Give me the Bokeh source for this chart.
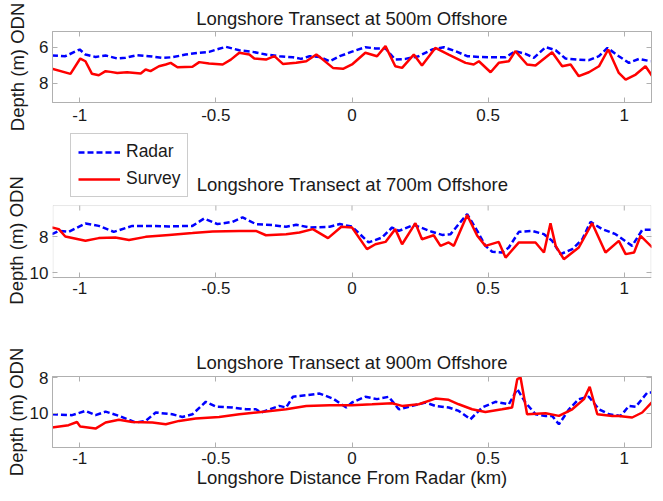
from bokeh.plotting import figure
from bokeh.layouts import column
from bokeh.models import (Range1d, FixedTicker, LinearAxis, Legend, LegendItem, Title,
                          Label, BoxAnnotation)
from bokeh.embed import file_html
from bokeh.resources import INLINE

# ---------------- data ----------------
x_ticks = [-1, -0.5, 0, 0.5, 1]
x_tick_labels = ["-1", "-0.5", "0", "0.5", "1"]

titles = ["Longshore Transect at 500m Offshore",
          "Longshore Transect at 700m Offshore",
          "Longshore Transect at 900m Offshore"]
y_label = "Depth (m) ODN"
x_label = "Longshore Distance From Radar (km)"
series_names = ["Radar", "Survey"]

# 500 m offshore
radar_500_x = [-1.102, -1.053, -1.0, -0.979, -0.942, -0.905, -0.862, -0.832, -0.789, -0.746,
               -0.697, -0.660, -0.611, -0.561, -0.525, -0.488, -0.463, -0.414, -0.365, -0.316,
               -0.267, -0.217, -0.187, -0.156, -0.119, -0.082, -0.045, 0.0,
               0.049, 0.086, 0.123, 0.159, 0.196, 0.245, 0.294, 0.337, 0.380, 0.423,
               0.466, 0.515, 0.564, 0.600, 0.637, 0.668, 0.711, 0.748, 0.784, 0.833,
               0.870, 0.907, 0.938, 0.980, 1.017, 1.054, 1.097]
radar_500_y = [6.46, 6.50, 6.13, 6.41, 6.54, 6.46, 6.63, 6.59, 6.44, 6.50,
               6.59, 6.56, 6.41, 6.31, 6.26, 6.09, 5.98, 6.17, 6.26, 6.41,
               6.50, 6.56, 6.65, 6.50, 6.54, 6.78, 6.50, 6.25,
               6.00, 6.07, 6.07, 6.69, 6.65, 6.50, 6.13, 6.00, 6.22, 6.50,
               6.54, 6.56, 6.56, 6.22, 6.37, 6.59, 6.00, 6.17, 6.63, 6.69,
               6.72, 6.50, 6.04, 6.50, 6.87, 6.65, 6.78]
survey_500_x = [-1.102, -1.034, -0.998, -0.979, -0.955, -0.930, -0.905, -0.887, -0.862, -0.826,
                -0.776, -0.758, -0.740, -0.709, -0.684, -0.666, -0.641, -0.586, -0.561, -0.525,
                -0.475, -0.445, -0.414, -0.377, -0.359, -0.316, -0.285, -0.254, -0.205, -0.168,
                -0.131, -0.107, -0.070, -0.033, 0.0,
                0.049, 0.092, 0.123, 0.159, 0.184, 0.227, 0.257, 0.306, 0.355, 0.417,
                0.447, 0.466, 0.509, 0.539, 0.576, 0.600, 0.643, 0.674, 0.735, 0.772,
                0.803, 0.833, 0.870, 0.907, 0.941, 0.980, 1.005, 1.042, 1.078, 1.103]
survey_500_y = [7.19, 7.48, 6.63, 6.78, 7.48, 7.56, 7.33, 7.37, 7.43, 7.39,
                7.46, 7.24, 7.33, 7.06, 6.96, 6.87, 7.11, 7.09, 6.83, 6.91,
                6.96, 6.69, 6.31, 6.41, 6.63, 6.69, 6.50, 6.93, 6.87, 6.78,
                6.41, 6.69, 7.15, 7.20, 6.96,
                6.31, 6.50, 5.94, 7.06, 7.15, 6.41, 7.02, 6.04, 6.41, 6.87,
                6.96, 6.78, 7.39, 6.87, 6.78, 6.22, 6.96, 7.02, 6.28, 7.06,
                6.96, 7.61, 7.39, 7.06, 6.13, 7.43, 7.80, 7.52, 7.06, 7.61]

# 700 m offshore
radar_700_x = [-1.102, -1.077, -1.041, -0.979, -0.930, -0.875, -0.807, -0.733, -0.672, -0.586,
               -0.543, -0.494, -0.439, -0.402, -0.353, -0.291, -0.242, -0.205, -0.156, -0.082,
               -0.045, 0.0,
               0.061, 0.110, 0.147, 0.172, 0.227, 0.294, 0.331, 0.362, 0.392, 0.423,
               0.460, 0.490, 0.515, 0.551, 0.576, 0.613, 0.662, 0.705, 0.735, 0.766,
               0.809, 0.846, 0.876, 0.919, 0.968, 1.029, 1.066, 1.097]
radar_700_y = [7.87, 7.69, 7.74, 7.28, 7.41, 7.74, 7.41, 7.41, 7.44, 7.41,
               7.00, 7.31, 7.19, 6.94, 7.31, 7.37, 7.46, 7.35, 7.50, 7.46,
               7.31, 7.45,
               8.33, 8.06, 7.50, 7.69, 7.35, 7.74, 7.91, 7.87, 7.31, 6.76,
               7.69, 8.52, 8.85, 8.89, 8.61, 7.74, 7.69, 7.87, 8.24, 8.98,
               8.70, 8.15, 7.19, 7.59, 7.87, 8.52, 7.63, 7.63]
survey_700_x = [-1.102, -1.077, -1.053, -0.979, -0.930, -0.869, -0.819, -0.758, -0.672, -0.586,
                -0.512, -0.414, -0.353, -0.316, -0.242, -0.193, -0.144, -0.088, -0.039, 0.0,
                0.055, 0.086, 0.123, 0.159, 0.184, 0.233, 0.257, 0.300, 0.325, 0.355,
                0.374, 0.423, 0.460, 0.490, 0.539, 0.564, 0.613, 0.674, 0.705, 0.729,
                0.748, 0.778, 0.833, 0.882, 0.931, 0.980, 1.005, 1.036, 1.060, 1.103]
survey_700_y = [7.50, 7.59, 8.00, 8.24, 8.09, 8.06, 8.20, 8.02, 7.91, 7.81,
                7.72, 7.69, 7.69, 7.93, 7.87, 7.78, 7.59, 8.09, 7.46, 7.50,
                8.70, 8.43, 8.30, 7.59, 8.43, 7.26, 8.15, 7.93, 8.52, 8.33,
                8.52, 6.81, 7.96, 8.52, 8.30, 9.17, 8.33, 8.33, 8.89, 7.26,
                8.52, 9.26, 8.61, 7.26, 8.89, 8.24, 8.98, 8.89, 7.96, 8.61]

# 900 m offshore
radar_900_x = [-1.102, -1.028, -0.979, -0.942, -0.905, -0.856, -0.795, -0.758, -0.721, -0.660,
               -0.623, -0.586, -0.537, -0.500, -0.439, -0.389, -0.353, -0.334, -0.267, -0.242,
               -0.217, -0.168, -0.119, -0.070, -0.021, 0.0,
               0.049, 0.092, 0.135, 0.172, 0.221, 0.270, 0.306, 0.355, 0.392, 0.435,
               0.478, 0.527, 0.576, 0.607, 0.637, 0.674, 0.711, 0.735, 0.760, 0.797,
               0.833, 0.870, 0.907, 0.944, 0.987, 1.017, 1.042, 1.085, 1.103]
radar_900_y = [10.06, 10.11, 9.87, 10.11, 9.91, 10.15, 10.52, 10.43, 9.96, 10.06,
               10.21, 10.06, 9.36, 9.63, 9.68, 9.78, 9.78, 9.96, 9.59, 9.68,
               9.08, 8.99, 8.90, 9.18, 9.68, 9.40,
               9.08, 9.21, 9.08, 9.78, 9.59, 9.40, 9.59, 9.68, 9.87, 10.34,
               9.68, 9.36, 9.50, 8.65, 9.40, 10.06, 10.15, 10.15, 10.62, 9.78,
               9.21, 9.08, 9.78, 10.06, 10.15, 9.59, 9.64, 8.84, 8.84]
survey_900_x = [-1.102, -1.041, -1.010, -0.998, -0.942, -0.905, -0.856, -0.807, -0.733, -0.684,
                -0.635, -0.574, -0.488, -0.414, -0.316, -0.242, -0.168, -0.082, 0.0,
                0.074, 0.147, 0.184, 0.245, 0.306, 0.355, 0.392, 0.441, 0.490, 0.551,
                0.588, 0.607, 0.619, 0.643, 0.711, 0.760, 0.809, 0.852, 0.873, 0.901,
                0.956, 0.980, 1.029, 1.066, 1.103]
survey_900_y = [10.80, 10.67, 10.49, 10.75, 10.86, 10.52, 10.37, 10.49, 10.52, 10.62,
                10.43, 10.30, 10.21, 10.06, 9.91, 9.78, 9.59, 9.55, 9.55,
                9.50, 9.44, 9.59, 9.50, 9.18, 9.25, 9.50, 9.78, 9.93, 9.78,
                9.68, 8.09, 8.00, 10.06, 10.00, 10.15, 9.78, 9.21, 8.52, 10.06,
                10.15, 10.15, 10.24, 9.96, 9.36]

# ---------------- style ----------------
FONT = "Liberation Sans"
TICK_FS = "17px"
LABEL_FS = "18.5px"
LEGEND_FS = "17.5px"
TXT = "#1a1a1a"
FRAME = "#b0b0b0"
BLUE = "#0000ff"
RED = "#ff0000"
FIG_W = 655
FRAME_W = 599


def style_axis(ax, hide_labels=False, show_line=True):
    ax.axis_line_color = FRAME if show_line else None
    ax.major_tick_line_color = FRAME
    ax.minor_tick_line_color = None
    ax.major_tick_in = 5
    ax.major_tick_out = 0
    ax.major_label_text_font = FONT
    ax.major_label_text_font_size = TICK_FS
    ax.major_label_text_color = TXT
    ax.axis_label_text_font = FONT
    ax.axis_label_text_font_size = LABEL_FS
    ax.axis_label_text_font_style = "normal"
    ax.axis_label_text_color = TXT
    if hide_labels:
        ax.major_label_text_font_size = "1px"
        ax.major_label_text_color = None
        ax.major_label_standoff = 0


def make_title(text, standoff):
    return Title(text=text, align="center", text_font=FONT, text_font_size=LABEL_FS,
                 text_font_style="normal", text_color=TXT, standoff=standoff)


def panel(y_bottom, y_top, y_ticks, top, fh, bottom, rx, ry, sx, sy,
          xtick_standoff, ylabel_standoff, xlabel=None, boxed=True, ylabel=y_label):
    p = figure(width=FIG_W, height=top + fh + bottom, title=None,
               x_range=Range1d(-1.1, 1.1), y_range=Range1d(y_bottom, y_top),
               output_backend="svg", toolbar_location=None,
               min_border_left=52, min_border_right=4,
               min_border_top=top, min_border_bottom=bottom)
    p.xgrid.visible = False
    p.ygrid.visible = False
    p.outline_line_color = FRAME if boxed else None

    p.xaxis.ticker = FixedTicker(ticks=x_ticks)
    p.xaxis.major_label_overrides = dict(zip(x_ticks, x_tick_labels))
    p.yaxis.ticker = FixedTicker(ticks=y_ticks)
    p.yaxis.major_label_overrides = {t: str(t) for t in y_ticks}
    style_axis(p.xaxis[0])
    style_axis(p.yaxis[0], show_line=boxed)
    p.xaxis.major_label_standoff = xtick_standoff
    p.yaxis.major_label_standoff = 4
    p.yaxis.axis_label = ylabel
    p.yaxis.axis_label_standoff = ylabel_standoff
    if xlabel:
        p.xaxis.axis_label = xlabel
        p.xaxis.axis_label_standoff = 0

    if boxed:
        top_ax = LinearAxis(ticker=FixedTicker(ticks=x_ticks))
        style_axis(top_ax, hide_labels=True)
        p.add_layout(top_ax, "above")
    right_ax = LinearAxis(ticker=FixedTicker(ticks=y_ticks))
    style_axis(right_ax, hide_labels=True, show_line=boxed)
    p.add_layout(right_ax, "right")

    rb = p.line(rx, ry, line_color=BLUE, line_width=2.5, line_dash="6 3")
    rr = p.line(sx, sy, line_color=RED, line_width=2.5)
    return p, rb, rr


# panel 1: page y 8 -> 140, frame 39 -> 110
p1, _, _ = panel(9.07, 5.13, [6, 8], 31, 71, 30,
                 radar_500_x, radar_500_y, survey_500_x, survey_500_y,
                 xtick_standoff=6, ylabel_standoff=8)
p1.add_layout(make_title(titles[0], 6), "above")

# panel 2: page y 140 -> 350.  Plotting frame spans 140 -> 320 so that legend and
# title above the data box stay inside it; the data box itself is 213 -> 285.
P2_PX_PER_UNIT = 18.0
P2_BOX_TOP, P2_BOX_BOTTOM = 6.28, 10.28
P2_FRAME_H = 180
P2_REF_Y, P2_REF_PX_FROM_TOP = 10.0, 140      # depth 10 sits 140 px below frame top
p2_top = P2_REF_Y - P2_REF_PX_FROM_TOP / P2_PX_PER_UNIT
p2_bottom = p2_top + P2_FRAME_H / P2_PX_PER_UNIT
pad = "\u00a0" * 7    # moves the centred axis label down onto the data box
p2, b2, r2 = panel(p2_bottom, p2_top, [8, 10], 0, P2_FRAME_H, 30,
                   radar_700_x, radar_700_y, survey_700_x, survey_700_y,
                   xtick_standoff=4, ylabel_standoff=0, boxed=False,
                   ylabel=y_label + pad)
p2.xaxis.fixed_location = P2_BOX_BOTTOM
half_px = 0.5 * 2.2 / FRAME_W
p2.add_layout(BoxAnnotation(left=-1.1 + half_px, right=1.1 - half_px,
                            top=P2_BOX_TOP, bottom=P2_BOX_BOTTOM,
                            fill_color=None, line_color=FRAME, line_width=1))
tick_len = 5 / P2_PX_PER_UNIT
p2.segment(x0=x_ticks, x1=x_ticks, y0=[P2_BOX_TOP] * len(x_ticks),
           y1=[P2_BOX_TOP + tick_len] * len(x_ticks), line_color=FRAME, line_width=1)
p2.add_layout(Label(x=300, y=128, x_units="screen", y_units="screen", text=titles[1],
                    text_align="center", text_baseline="middle",
                    text_font=FONT, text_font_size=LABEL_FS, text_color=TXT))
legend = Legend(items=[LegendItem(label=series_names[0], renderers=[b2]),
                       LegendItem(label=series_names[1], renderers=[r2])],
                location=(18, 115))
legend.label_text_font = FONT
legend.label_text_font_size = LEGEND_FS
legend.label_text_color = TXT
legend.label_height = 20
legend.glyph_height = 20
legend.glyph_width = 42
legend.label_standoff = 6
legend.padding = 7
legend.spacing = 6
legend.margin = 0
legend.border_line_color = "#999999"
legend.background_fill_alpha = 1.0
p2.add_layout(legend)

# panel 3: page y 350 -> 500, frame 384 -> 455
p3, _, _ = panel(11.92, 7.944, [8, 10], 34, 71, 45,
                 radar_900_x, radar_900_y, survey_900_x, survey_900_y,
                 xtick_standoff=4, ylabel_standoff=0, xlabel=x_label)
p3.add_layout(make_title(titles[2], 7), "above")

layout = column(p1, p2, p3, spacing=0)
open("out.html", "w").write(file_html(layout, INLINE))
